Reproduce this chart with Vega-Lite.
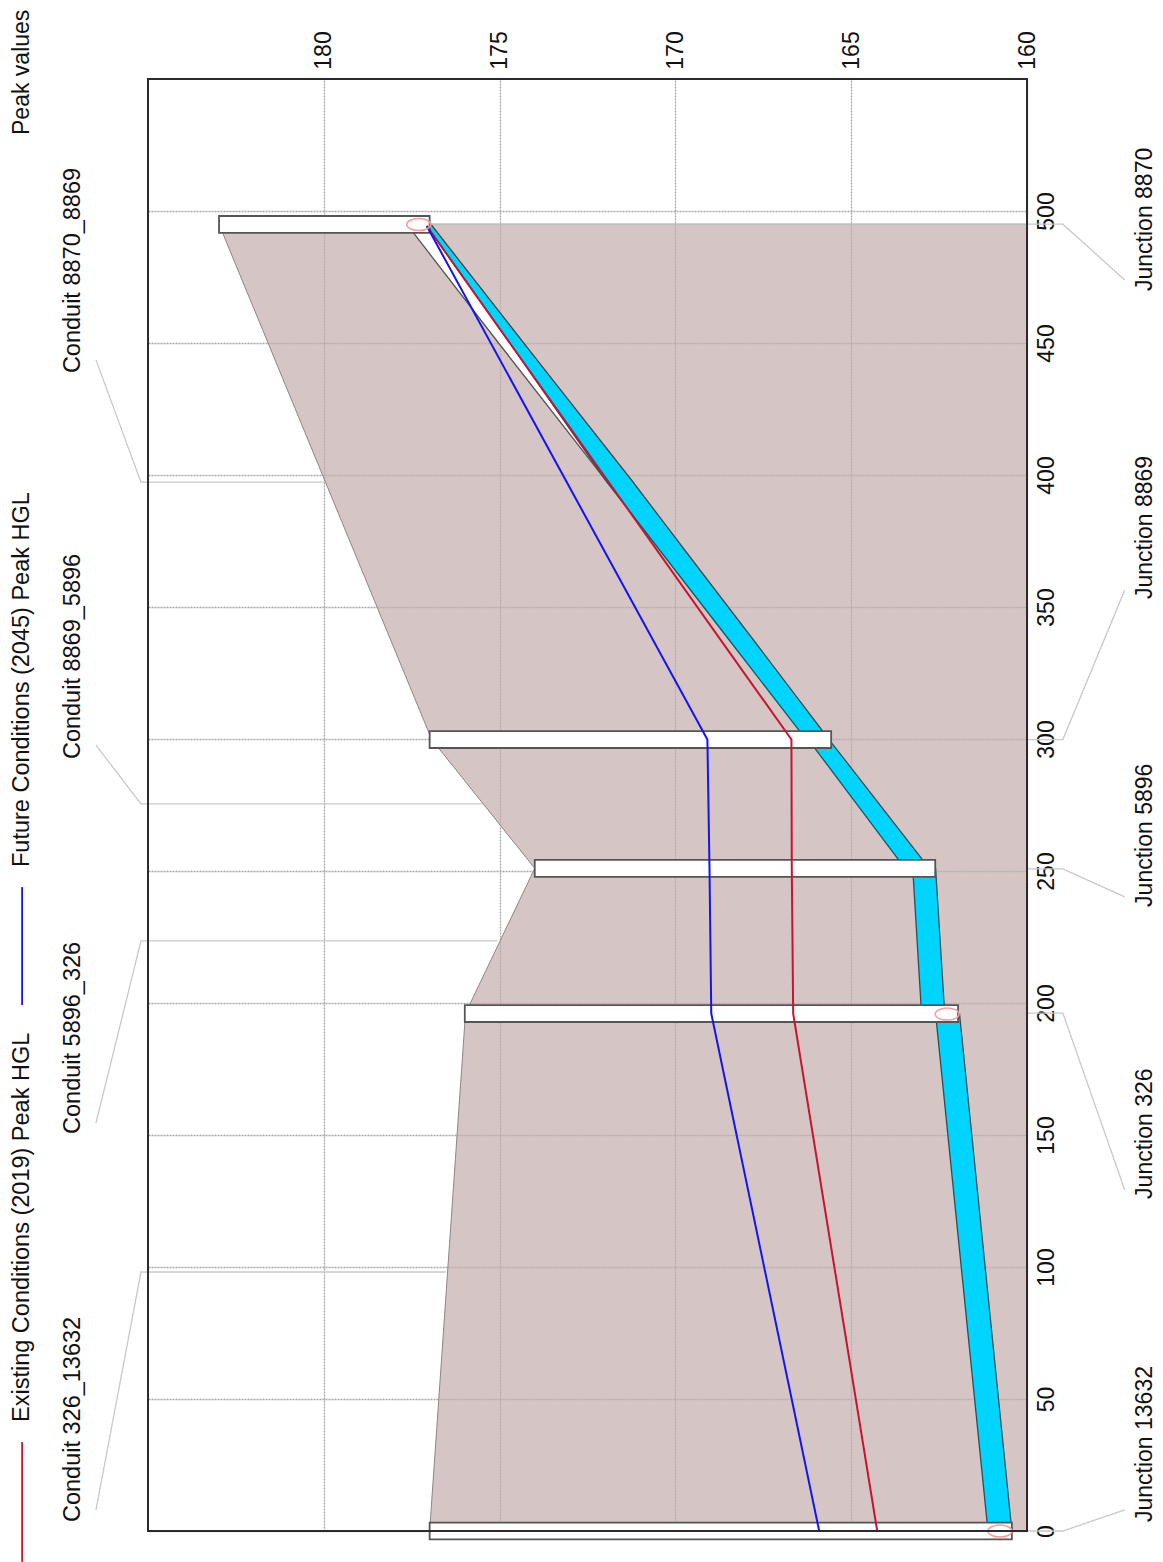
{
"$schema":"https://vega.github.io/schema/vega-lite/v6.json",
"width":879,"height":1452,
"autosize":{"type":"none"},
"padding":{"left":148,"top":79,"right":136,"bottom":31},
"background":"white",
"view":{"stroke":null},
"config":{"font":"Liberation Sans","text":{"font":"Liberation Sans"}},
"datasets":{
"ground":[
{"dist":0,"elev":176.99,"base":160},
{"dist":196.1,"elev":175.97,"base":160},
{"dist":251,"elev":174.0,"base":160},
{"dist":299.8,"elev":176.93,"base":160},
{"dist":495,"elev":182.98,"base":160}],
"crown":[
{"dist":299.8,"top":166.22,"bottom":165.63},
{"dist":399.2,"top":172.05,"bottom":171.39},
{"dist":450,"top":175.03,"bottom":174.32},
{"dist":495,"top":177.64,"bottom":176.96}],
"water":[
{"seg":"326_13632","dist":0,"top":161.11,"bottom":160.43},
{"seg":"326_13632","dist":196,"top":162.6,"bottom":161.92},
{"seg":"5896_326","dist":196,"top":163.0,"bottom":162.34},
{"seg":"5896_326","dist":251,"top":163.25,"bottom":162.6},
{"seg":"8869_5896","dist":251,"top":163.47,"bottom":162.78},
{"seg":"8869_5896","dist":299.8,"top":166.22,"bottom":165.63},
{"seg":"8870_8869","dist":299.8,"top":166.28,"bottom":165.63},
{"seg":"8870_8869","dist":337.5,"top":168.47,"bottom":167.78},
{"seg":"8870_8869","dist":367.8,"top":170.23,"bottom":169.52},
{"seg":"8870_8869","dist":398.1,"top":171.99,"bottom":171.25},
{"seg":"8870_8869","dist":451.1,"top":174.77,"bottom":174.38},
{"seg":"8870_8869","dist":495,"top":177.1,"bottom":176.96}],
"junctions":[
{"name":"13632","d1":-3.2,"d2":3.2,"e1":176.99,"e2":160.43},
{"name":"326","d1":192.8,"d2":199.2,"e1":175.99,"e2":161.96},
{"name":"5896","d1":247.8,"d2":254.2,"e1":174.0,"e2":162.61},
{"name":"8869","d1":296.6,"d2":303,"e1":176.99,"e2":165.57},
{"name":"8870","d1":491.7,"d2":498.1,"e1":182.98,"e2":176.99}],
"hgl":[
{"series":"Existing","i":0,"dist":0,"elev":164.26},
{"series":"Existing","i":1,"dist":196,"elev":166.65},
{"series":"Existing","i":2,"dist":251,"elev":166.69},
{"series":"Existing","i":3,"dist":299.8,"elev":166.7},
{"series":"Existing","i":4,"dist":494.3,"elev":177.07},
{"series":"Future","i":0,"dist":0,"elev":165.91},
{"series":"Future","i":1,"dist":196,"elev":168.98},
{"series":"Future","i":2,"dist":251,"elev":169.03},
{"series":"Future","i":3,"dist":299.8,"elev":169.09},
{"series":"Future","i":4,"dist":494.3,"elev":177.07}],
"legendlines":[
{"series":"Existing","i":0,"dist":-11.7,"elev":188.58},
{"series":"Existing","i":1,"dist":33.7,"elev":188.58},
{"series":"Future","i":0,"dist":199.2,"elev":188.58},
{"series":"Future","i":1,"dist":243.9,"elev":188.58}],
"ellipses":[
{"dist":494.9,"elev":177.3},
{"dist":195.8,"elev":162.27},
{"dist":0,"elev":160.77}],
"leaders":[
{"k":"C1","i":0,"elev":186.48,"dist":8},
{"k":"C1","i":1,"elev":185.2,"dist":98.1},
{"k":"C1","i":2,"elev":176.53,"dist":98.1},
{"k":"C2","i":0,"elev":186.48,"dist":154.5},
{"k":"C2","i":1,"elev":185.2,"dist":223.5},
{"k":"C2","i":2,"elev":175.06,"dist":223.5},
{"k":"C3","i":0,"elev":186.48,"dist":297.7},
{"k":"C3","i":1,"elev":185.2,"dist":275.4},
{"k":"C3","i":2,"elev":175.48,"dist":275.4},
{"k":"C4","i":0,"elev":186.48,"dist":443.6},
{"k":"C4","i":1,"elev":185.2,"dist":397.3},
{"k":"C4","i":2,"elev":180,"dist":397.3},
{"k":"J1","i":0,"elev":160.43,"dist":0},
{"k":"J1","i":1,"elev":158.98,"dist":0},
{"k":"J1","i":2,"elev":157.22,"dist":8},
{"k":"J2","i":0,"elev":161.62,"dist":196.2},
{"k":"J2","i":1,"elev":158.98,"dist":196.2},
{"k":"J2","i":2,"elev":157.22,"dist":129.2},
{"k":"J3","i":0,"elev":162.24,"dist":250.8},
{"k":"J3","i":1,"elev":158.98,"dist":250.8},
{"k":"J3","i":2,"elev":157.22,"dist":240.2},
{"k":"J4","i":0,"elev":160,"dist":299.8},
{"k":"J4","i":1,"elev":158.98,"dist":299.8},
{"k":"J4","i":2,"elev":157.22,"dist":356.4},
{"k":"J5","i":0,"elev":176.96,"dist":495},
{"k":"J5","i":1,"elev":158.98,"dist":495},
{"k":"J5","i":2,"elev":157.22,"dist":473.9}],
"labels":[
{"label":"Peak values","elev":188.59,"dist":528.8},
{"label":"Junction 13632","elev":156.65,"dist":3.4},
{"label":"Junction 326","elev":156.65,"dist":125.8},
{"label":"Junction 5896","elev":156.65,"dist":236.4},
{"label":"Junction 8869","elev":156.65,"dist":353},
{"label":"Junction 8870","elev":156.65,"dist":469.7}],
"labelsWide":[
{"label":"Existing Conditions (2019) Peak HGL","elev":188.59,"dist":41.3},
{"label":"Future Conditions (2045) Peak HGL","elev":188.59,"dist":251.5},
{"label":"Conduit 326_13632","elev":187.13,"dist":3.4},
{"label":"Conduit 5896_326","elev":187.13,"dist":150.4},
{"label":"Conduit 8869_5896","elev":187.13,"dist":292.4},
{"label":"Conduit 8870_8869","elev":187.13,"dist":438.6}],
"frame":[{"e1":185,"e2":160,"d1":0,"d2":550}]
},
"layer":[
{"data":{"name":"ground"},
 "mark":{"type":"area","orient":"horizontal","fill":"#c3acad","fillOpacity":0.7,"stroke":"#8f8585","strokeWidth":1},
 "encoding":{
  "x":{"field":"elev","type":"quantitative","title":null,"scale":{"domain":[160,185],"reverse":true,"nice":false,"zero":false},
   "axis":{"orient":"top","values":[160,165,170,175,180],"grid":true,"gridColor":"#a6a6a6","gridDash":[2,1],"gridWidth":1.3,"ticks":false,"domain":false,"labelAngle":-90,"labelAlign":"center","labelBaseline":"middle","labelPadding":29,"labelFontSize":23,"labelFont":"Liberation Sans","labelColor":"#111111"}},
  "x2":{"field":"base"},
  "y":{"field":"dist","type":"quantitative","title":null,"scale":{"domain":[0,550],"nice":false,"zero":false},
   "axis":{"orient":"right","values":[0,50,100,150,200,250,300,350,400,450,500],"grid":true,"gridColor":"#a6a6a6","gridDash":[2,1],"gridWidth":1.3,"ticks":false,"domain":false,"labelAngle":-90,"labelAlign":"center","labelBaseline":"middle","labelPadding":19,"labelFontSize":23,"labelFont":"Liberation Sans","labelColor":"#111111"}}}},
{"data":{"name":"crown"},
 "mark":{"type":"area","orient":"horizontal","fill":"white","stroke":"#555555","strokeWidth":1.3},
 "encoding":{"x":{"field":"top","type":"quantitative"},"x2":{"field":"bottom"},"y":{"field":"dist","type":"quantitative"}}},
{"data":{"name":"water"},
 "mark":{"type":"area","orient":"horizontal","fill":"#00d4ff","stroke":"#2f4f55","strokeWidth":1.3},
 "encoding":{"x":{"field":"top","type":"quantitative"},"x2":{"field":"bottom"},"y":{"field":"dist","type":"quantitative"},"detail":{"field":"seg"}}},
{"data":{"name":"leaders"},
 "mark":{"type":"line","stroke":"#c9c9c9","strokeWidth":1.3,"clip":false},
 "encoding":{"x":{"field":"elev","type":"quantitative"},"y":{"field":"dist","type":"quantitative"},"detail":{"field":"k"},"order":{"field":"i"}}},
{"data":{"name":"junctions"},
 "mark":{"type":"rect","fill":"white","stroke":"#555555","strokeWidth":1.8},
 "encoding":{"x":{"field":"e1","type":"quantitative"},"x2":{"field":"e2"},"y":{"field":"d1","type":"quantitative"},"y2":{"field":"d2"}}},
{"data":{"name":"hgl"},
 "mark":{"type":"line","strokeWidth":2},
 "encoding":{"x":{"field":"elev","type":"quantitative"},"y":{"field":"dist","type":"quantitative"},"order":{"field":"i"},
  "color":{"field":"series","type":"nominal","legend":null,"scale":{"domain":["Existing","Future"],"range":["#c8142e","#1414f0"]}}}},
{"data":{"name":"legendlines"},
 "mark":{"type":"line","strokeWidth":1.8,"clip":false},
 "encoding":{"x":{"field":"elev","type":"quantitative"},"y":{"field":"dist","type":"quantitative"},"order":{"field":"i"},
  "color":{"field":"series","type":"nominal","legend":null,"scale":{"domain":["Existing","Future"],"range":["#c8142e","#1414f0"]}}}},
{"data":{"name":"ellipses"},
 "mark":{"type":"point","shape":"M-1,0A1,0.5 0 1,1 1,0A1,0.5 0 1,1 -1,0Z","size":576,"filled":false,"stroke":"#ff9a9a","strokeWidth":1.5,"opacity":1},
 "encoding":{"x":{"field":"elev","type":"quantitative"},"y":{"field":"dist","type":"quantitative"}}},
{"data":{"name":"labels"},
 "mark":{"type":"text","angle":270,"align":"left","baseline":"middle","fontSize":23,"font":"Liberation Sans","color":"#111111"},
 "encoding":{"x":{"field":"elev","type":"quantitative"},"y":{"field":"dist","type":"quantitative"},"text":{"field":"label"}}},
{"data":{"name":"labelsWide"},
 "mark":{"type":"text","angle":270,"align":"left","baseline":"middle","fontSize":23.5,"font":"Liberation Sans","color":"#111111"},
 "encoding":{"x":{"field":"elev","type":"quantitative"},"y":{"field":"dist","type":"quantitative"},"text":{"field":"label"}}},
{"data":{"name":"frame"},
 "mark":{"type":"rect","fillOpacity":0,"stroke":"#2b2b2b","strokeWidth":2},
 "encoding":{"x":{"field":"e1","type":"quantitative"},"x2":{"field":"e2"},"y":{"field":"d1","type":"quantitative"},"y2":{"field":"d2"}}}
]
}
